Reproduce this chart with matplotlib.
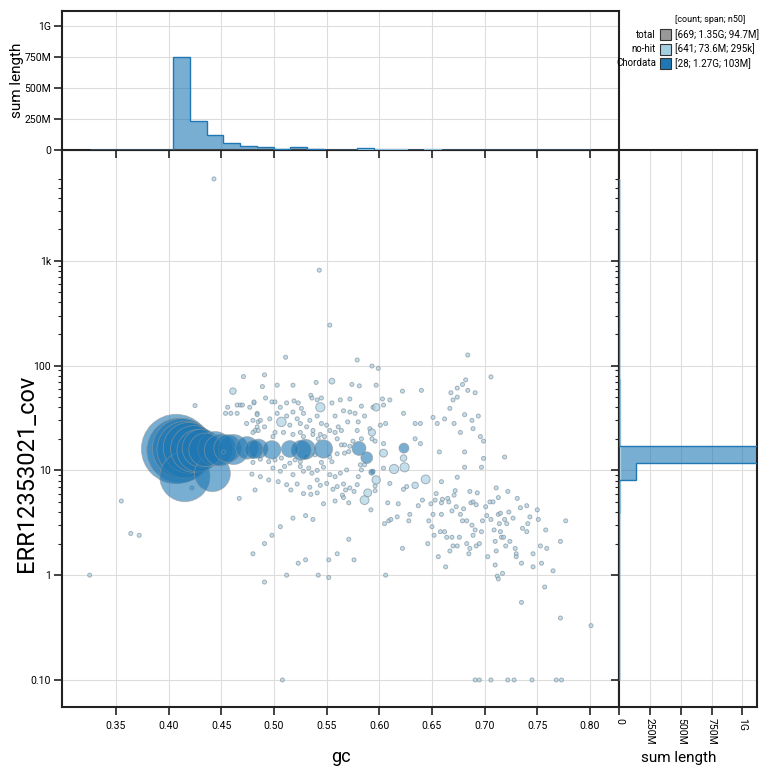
import numpy as np
import matplotlib
matplotlib.use('Agg')
import matplotlib.pyplot as plt
from matplotlib.ticker import FixedLocator, FuncFormatter, NullFormatter
from matplotlib.patches import Rectangle

plt.rcParams['font.family'] = ['Roboto', 'DejaVu Sans']

# Chordata contigs: gc, coverage, length (Mb)
chord_gc = [0.407, 0.410, 0.413, 0.416, 0.419, 0.4153, 0.424, 0.428, 0.431, 0.435,
            0.4415, 0.444, 0.449, 0.456, 0.4616, 0.4743, 0.481, 0.4852, 0.4979, 0.515,
            0.526, 0.530, 0.547, 0.5807, 0.5881, 0.5929, 0.6234, 0.452]
chord_cov = [16.0, 15.5, 16.2, 15.8, 16.4, 8.7, 16.0, 15.4, 16.3, 15.7,
             9.3, 16.1, 15.6, 16.2, 15.8, 16.4, 15.9, 16.1, 15.7, 16.0,
             15.6, 15.9, 16.0, 16.2, 13.2, 9.6, 16.3, 15.0]
chord_len = [171, 150, 128, 115, 92, 89, 78, 64, 52, 40,
             46, 42, 36, 27, 32, 18, 12, 13, 12, 10,
             14, 14, 12, 7, 5, 1.3, 3.6, 0.6]

# no-hit contigs (small ones)
nohit_gc = [
    # sparse upper part
    0.443, 0.543, 0.553, 0.511, 0.471, 0.491, 0.579, 0.593, 0.599, 0.684, 0.706, 0.682,
    # left of the dense cloud
    0.456, 0.465, 0.468, 0.470, 0.477, 0.481, 0.454, 0.459, 0.465, 0.484, 0.474, 0.480,
    0.485, 0.482, 0.484, 0.425, 0.480, 0.479, 0.482, 0.467, 0.355, 0.364, 0.372, 0.422,
    # dense centre
    0.489, 0.503, 0.518, 0.540, 0.574, 0.581, 0.597,
    0.481, 0.492, 0.498, 0.501, 0.506, 0.512, 0.519, 0.523, 0.526, 0.535, 0.536, 0.541,
    0.545, 0.555, 0.563, 0.566, 0.572, 0.572, 0.577, 0.580, 0.583, 0.586, 0.594, 0.603,
    0.604, 0.610, 0.623, 0.622, 0.640,
    0.484, 0.487, 0.491, 0.496, 0.503, 0.512, 0.515, 0.518, 0.522, 0.525, 0.528, 0.531,
    0.534, 0.537, 0.541, 0.545, 0.550, 0.553, 0.558, 0.561, 0.564, 0.570, 0.579, 0.591,
    0.601, 0.606, 0.634, 0.639,
    0.480, 0.485, 0.499, 0.501, 0.509, 0.518, 0.525, 0.528, 0.537, 0.542, 0.544, 0.548,
    0.558, 0.560, 0.564, 0.567, 0.572, 0.575, 0.583, 0.593, 0.596, 0.604, 0.634, 0.639,
    0.480, 0.487, 0.495, 0.501, 0.507, 0.515, 0.520, 0.525, 0.531, 0.539, 0.545, 0.553,
    0.555, 0.560, 0.567, 0.571, 0.582, 0.586,
    0.487, 0.499, 0.506, 0.510, 0.518, 0.525, 0.528, 0.533, 0.536, 0.541, 0.547, 0.553,
    0.558, 0.563, 0.569, 0.580, 0.583, 0.594, 0.604, 0.610, 0.626,
    0.495, 0.504, 0.512, 0.522, 0.534, 0.541, 0.550, 0.560, 0.572, 0.579, 0.596, 0.566,
    0.544,
    # upper right
    0.679, 0.674, 0.668, 0.684, 0.691, 0.674, 0.670, 0.667, 0.681, 0.688, 0.694, 0.651,
    0.662, 0.655, 0.671, 0.677, 0.689, 0.696, 0.699, 0.657, 0.681, 0.699, 0.719, 0.681,
    0.697,
    # lower right
    0.659, 0.674, 0.641, 0.649, 0.653, 0.654, 0.659, 0.660, 0.665, 0.666, 0.671, 0.672,
    0.673, 0.669, 0.651, 0.659, 0.647, 0.650, 0.652, 0.646, 0.658, 0.662, 0.664, 0.669,
    0.656, 0.663, 0.667, 0.670, 0.674, 0.676, 0.677, 0.679, 0.680, 0.683, 0.686, 0.687,
    0.688, 0.689, 0.691, 0.692, 0.693, 0.692, 0.695, 0.689, 0.683, 0.686, 0.685, 0.697,
    0.698, 0.701, 0.702, 0.703, 0.705, 0.706, 0.708, 0.709, 0.710, 0.711, 0.710, 0.713,
    0.713, 0.711, 0.714, 0.712, 0.713, 0.717, 0.715, 0.716, 0.715, 0.718, 0.720, 0.719,
    0.722, 0.721, 0.723, 0.724, 0.727, 0.729, 0.730, 0.730, 0.731, 0.734, 0.736, 0.735,
    0.740, 0.740, 0.743, 0.741, 0.746, 0.746, 0.750, 0.751, 0.753, 0.754, 0.758, 0.759,
    0.765, 0.772, 0.777, 0.757, 0.735, 0.772, 0.801,
    # lower middle
    0.325, 0.516, 0.528, 0.535, 0.541, 0.547, 0.556, 0.558, 0.565, 0.566, 0.568, 0.571,
    0.576, 0.596, 0.592, 0.608, 0.618, 0.623, 0.637, 0.605, 0.609, 0.611, 0.617, 0.629,
    0.628, 0.622, 0.571, 0.576, 0.560, 0.552, 0.552, 0.542, 0.530, 0.523, 0.537, 0.530,
    0.518, 0.506, 0.498, 0.491, 0.480, 0.491, 0.512, 0.606,
    # zero coverage
    0.508, 0.691, 0.695, 0.706, 0.722, 0.728, 0.745, 0.768, 0.773,
]
nohit_cov = [
    6040, 813, 243, 120, 78.5, 81.5, 113, 99, 94, 126, 78, 73,
    40, 42, 42, 42, 40, 44, 35, 35, 35, 35, 28, 30,
    29, 24, 26, 41.5, 11.9, 9.2, 6.5, 5.4, 5.1, 2.5, 2.4, 6.8,
    63, 65, 65, 69, 66, 64, 65,
    45, 49, 45, 45, 40, 44, 46, 44, 39, 52, 49, 47,
    49, 44, 47, 37, 48, 36, 35, 29, 41, 33, 40, 48,
    42, 47, 35, 57, 58,
    34, 30, 26, 31, 35, 33, 27, 36, 31, 28, 35, 26,
    30, 24, 33, 28, 27, 24, 33, 26, 24, 29, 24, 25,
    27, 28, 28, 28,
    23, 24, 21, 23, 23, 22, 23, 21, 22, 20, 22, 21,
    23, 20, 17.5, 17.5, 17, 19, 20, 20, 19, 18, 20, 18,
    13.6, 12.8, 12.1, 12.6, 13.1, 11.7, 12.6, 12.1, 13.4, 14.1, 11.9, 13.4,
    12.1, 14.4, 14.6, 15.1, 11.3, 11.3,
    8.7, 10.5, 9.8, 10.9, 9.1, 10.9, 9.8, 10.5, 9.4, 10.0, 10.7, 9.1,
    8.7, 9.4, 10.1, 8.7, 10.1, 9.8, 10.5, 7.5, 7.0,
    8.1, 7.8, 7.3, 7.4, 6.9, 8.1, 7.5, 7.0, 6.8, 7.3, 7.1, 7.4,
    7.2,
    66, 61, 55, 58, 55, 50, 47, 39, 34, 30, 33, 32,
    31, 28, 28, 23, 25, 21, 19, 15, 15, 13, 13.4, 10.7,
    10.7,
    7.8, 8.6, 5.2, 4.8, 5.2, 6.0, 4.9, 5.3, 5.4, 5.0, 5.8, 6.4,
    4.5, 4.1, 3.8, 3.8, 3.3, 2.9, 2.4, 2.0, 2.6, 2.6, 2.3, 2.3,
    1.5, 1.2, 1.7, 1.9, 1.9, 2.3, 3.8, 3.3, 4.3, 3.3, 6.3, 4.9,
    3.0, 5.0, 2.7, 4.7, 6.1, 1.9, 2.0, 2.4, 2.0, 1.8, 1.6, 2.6,
    3.3, 4.5, 3.7, 1.5, 5.0, 3.4, 5.0, 2.7, 2.1, 6.8, 1.25, 5.5,
    3.8, 1.7, 3.1, 0.98, 0.92, 1.04, 3.9, 2.3, 2.6, 2.3, 1.9, 3.4,
    6.3, 3.1, 4.0, 2.1, 3.5, 1.8, 1.6, 1.5, 5.4, 4.4, 2.8, 1.3,
    4.6, 2.6, 3.6, 3.1, 1.6, 1.2, 4.2, 3.4, 1.9, 1.3, 2.7, 1.8,
    1.1, 2.1, 3.3, 0.77, 0.55, 0.39, 0.33,
    1.0, 6.5, 6.0, 5.9, 6.1, 4.8, 6.6, 5.1, 5.8, 5.5, 6.5, 4.9,
    6.3, 6.4, 4.2, 4.9, 4.8, 6.6, 4.6, 3.1, 3.3, 3.4, 3.6, 3.8,
    3.3, 1.8, 2.2, 1.4, 1.6, 1.4, 0.95, 1.0, 1.4, 1.3, 3.4, 3.7,
    3.5, 2.9, 2.4, 2.0, 1.6, 0.86, 1.0, 1.0,
    0.1, 0.1, 0.1, 0.1, 0.1, 0.1, 0.1, 0.1, 0.1,
]
nohit_small_len = 0.11  # Mb, typical small contig

# larger no-hit contigs
nohit_big_gc = [0.555, 0.461, 0.544, 0.597, 0.507, 0.593, 0.604, 0.614, 0.624, 0.623,
                0.597, 0.644, 0.586, 0.589, 0.634]
nohit_big_cov = [71, 57, 40, 40, 29, 23, 14.6, 10.3, 10.7, 13.1,
                 8.1, 8.2, 5.2, 6.1, 7.2]
nohit_big_len = [1.2, 1.5, 3.0, 2.0, 3.2, 1.8, 2.2, 3.0, 3.0, 1.5,
                 2.5, 2.8, 2.8, 2.2, 1.5]

legend_names = ['total', 'no-hit', 'Chordata']
legend_stats = ['[669; 1.35G; 94.7M]', '[641; 73.6M; 295k]', '[28; 1.27G; 103M]']
legend_colors = ['#999999', '#a6cee3', '#1f78b4']

nohit_color = '#a6cee3'
chord_color = '#1f78b4'


def blob_size(length_mb):
    r = np.maximum(2.0, 2.65 * np.sqrt(np.asarray(length_mb, dtype=float)))
    return (2 * r * 0.72) ** 2


def fmt_len(v, pos=None):
    if v == 0:
        return '0'
    if v >= 1e9:
        return '%gG' % (v / 1e9)
    return '%gM' % (v / 1e6)


nh_gc = np.array(nohit_gc + nohit_big_gc)
nh_cov = np.array(nohit_cov + nohit_big_cov)
nh_len = np.array([nohit_small_len] * len(nohit_gc) + nohit_big_len) * 1e6
ch_gc = np.array(chord_gc)
ch_cov = np.array(chord_cov)
ch_len = np.array(chord_len) * 1e6

all_gc = np.concatenate([nh_gc, ch_gc])
all_logcov = np.log10(np.concatenate([nh_cov, ch_cov]))
gc_edges = np.linspace(all_gc.min(), all_gc.max(), 31)
cov_edges = np.linspace(all_logcov.min(), all_logcov.max(), 31)

fig = plt.figure(figsize=(7.7, 7.7), dpi=100)
ax = fig.add_axes([62 / 770, 63 / 770, 557 / 770, 557 / 770])
ax_top = fig.add_axes([62 / 770, 620 / 770, 557 / 770, 139 / 770], sharex=ax)
ax_right = fig.add_axes([619 / 770, 63 / 770, 138 / 770, 557 / 770], sharey=ax)

# scatter
ax.scatter(nh_gc, nh_cov, s=blob_size(nh_len / 1e6), color=nohit_color, alpha=0.65,
           edgecolors='#7d8d98', linewidths=0.7, zorder=3)
order = np.argsort(-ch_len)
ax.scatter(ch_gc[order], ch_cov[order], s=blob_size(ch_len[order] / 1e6), color=chord_color,
           alpha=0.6, edgecolors='#999999', linewidths=0.6, zorder=4)

ax.set_yscale('log')
ax.set_xlim(0.2987, 0.8276)
ax.set_ylim(0.0552, 11400)
ax.yaxis.set_major_locator(FixedLocator([0.1, 1, 10, 100, 1000]))
ax.yaxis.set_major_formatter(FuncFormatter(
    lambda v, p: {0.1: '0.10', 1: '1', 10: '10', 100: '100', 1000: '1k'}.get(round(v, 1), '')))
minor = [k * 10 ** e for e in range(0, 4) for k in range(2, 10) if k * 10 ** e <= 6000]
ax.yaxis.set_minor_locator(FixedLocator(minor))
ax.yaxis.set_minor_formatter(NullFormatter())
ax.set_xticks([0.35, 0.40, 0.45, 0.50, 0.55, 0.60, 0.65, 0.70, 0.75, 0.80])
ax.xaxis.set_major_formatter(FuncFormatter(lambda v, p: '%.2f' % v))
ax.grid(True, which='major', color='#dddddd', lw=0.8, zorder=0)
ax.set_xlabel('gc', fontsize=13, labelpad=12)
ax.set_ylabel('ERR12353021_cov', fontsize=17)
ax.yaxis.set_label_coords(-0.043, 0.42)

# top histogram
h_nh, _ = np.histogram(nh_gc, gc_edges, weights=nh_len)
h_ch, _ = np.histogram(ch_gc, gc_edges, weights=ch_len)
for h, c in [(h_nh, nohit_color), (h_ch, chord_color)]:
    ax_top.stairs(h, gc_edges, fill=True, color=c, alpha=0.6, lw=0, zorder=2)
    ax_top.stairs(h, gc_edges, color=c, lw=1, zorder=3)
hist_max = 1.5 * max(h_ch.max(), h_nh.max())
ax_top.set_ylim(0, hist_max)
ax_top.yaxis.set_major_locator(FixedLocator([0, 2.5e8, 5e8, 7.5e8, 1e9]))
ax_top.yaxis.set_major_formatter(FuncFormatter(fmt_len))
ax_top.grid(True, color='#dddddd', lw=0.8, zorder=0)
ax_top.set_ylabel('sum length', fontsize=11)
ax_top.yaxis.set_label_coords(-0.068, 0.5)
ax_top.tick_params(axis='x', labelbottom=False)

# right histogram
v_nh, _ = np.histogram(np.log10(nh_cov), cov_edges, weights=nh_len)
v_ch, _ = np.histogram(np.log10(ch_cov), cov_edges, weights=ch_len)
for v, c in [(v_nh, nohit_color), (v_ch, chord_color)]:
    ax_right.stairs(v, 10 ** cov_edges, orientation='horizontal', fill=True, color=c,
                    alpha=0.6, lw=0, zorder=2)
    ax_right.stairs(v, 10 ** cov_edges, orientation='horizontal', color=c, lw=1, zorder=3)
ax_right.set_xlim(0, hist_max)
ax_right.xaxis.set_major_locator(FixedLocator([0, 2.5e8, 5e8, 7.5e8, 1e9]))
ax_right.xaxis.set_major_formatter(FuncFormatter(fmt_len))
ax_right.grid(True, which='major', color='#dddddd', lw=0.8, zorder=0)
ax_right.set_xlabel('sum length', fontsize=11)
ax_right.xaxis.set_label_coords(0.43, -0.079)
ax_right.tick_params(axis='y', which='both', labelleft=False)
ax_right.tick_params(axis='x', labelrotation=-90)

for a in [ax, ax_top, ax_right]:
    for s in a.spines.values():
        s.set_linewidth(1.5)
        s.set_color('#222222')
    a.tick_params(which='major', length=6, width=1.2, labelsize=7.5, pad=2, color='#222222')
    a.tick_params(which='minor', length=3, width=0.8, color='#222222')
    a.set_axisbelow(True)
ax.tick_params(axis='x', pad=4)

# legend
fig.text(675 / 770, 1 - 20 / 770, '[count; span; n50]', fontsize=6.5, ha='left', va='center')
for i, (name, stat, col) in enumerate(zip(legend_names, legend_stats, legend_colors)):
    yc = 1 - (34.5 + 14.5 * i) / 770
    fig.text(656 / 770, yc, name, fontsize=7, ha='right', va='center')
    fig.patches.append(Rectangle((660 / 770, yc - 5.5 / 770), 11 / 770, 11 / 770,
                                 transform=fig.transFigure, facecolor=col,
                                 edgecolor='#333333', lw=0.8))
    fig.text(675 / 770, yc, stat, fontsize=7, ha='left', va='center')

fig.savefig('out.png', dpi=100)
